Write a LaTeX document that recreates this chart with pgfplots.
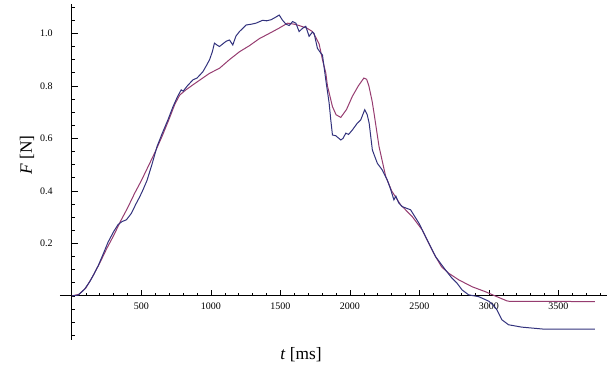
\documentclass[border=0pt]{standalone}
\usepackage{pgfplots}
\pgfplotsset{compat=1.18}
\usepackage{fontspec}
\setmainfont{Liberation Serif}
\definecolor{mblue}{RGB}{50,50,125}
\definecolor{mpurple}{RGB}{150,60,112}
\begin{document}
\begin{tikzpicture}
\begin{axis}[name=ax,
  scale only axis, width=410.25pt, height=252pt,
  xmin=-86, xmax=3849, ymin=-0.168, ymax=1.112,
  axis lines=middle, axis line style={-, line width=0.7pt},
  tick align=inside,
  xtick={500,1000,...,3500}, ytick={0.2,0.4,...,1.0},
  minor xtick={100,200,...,3800},
  minor ytick={-0.15,-0.1,...,1.1},
  major tick length=4.5pt, minor tick length=2.5pt,
  tick style={black, line width=0.5pt},
  /pgf/number format/assume math mode=true,
  x tick label style={/pgf/number format/1000 sep={}, font=\fontsize{7.5}{8}\selectfont, yshift=-2pt},
  y tick label style={/pgf/number format/.cd, fixed, fixed zerofill, precision=1, /tikz/.cd, font=\fontsize{7.5}{8}\selectfont, xshift=-11pt},
  xlabel={\textit{t} [ms]}, ylabel={\textit{F} [N]},
  xlabel style={at={(axis description cs:0.4406,-0.0446)}, anchor=center, font=\fontsize{13}{15}\selectfont},
  ylabel style={at={(axis description cs:-0.0603,0.5506)}, anchor=center, rotate=90, font=\fontsize{13}{15}\selectfont},
]
\addplot[mpurple, line width=0.75pt] coordinates {
(0,0) (50,0.006) (100,0.03) (150,0.075) (200,0.125) (250,0.18) (300,0.23) (350,0.285)
(400,0.335) (450,0.39) (500,0.44) (550,0.495) (600,0.55) (650,0.61) (700,0.675)
(740,0.73) (775,0.765) (820,0.785) (870,0.804) (930,0.826) (990,0.848) (1061,0.867)
(1133,0.9) (1205,0.93) (1276,0.953) (1348,0.98) (1420,1.0) (1490,1.02) (1551,1.039)
(1600,1.035) (1634,1.03) (1690,1.02) (1730,1.007) (1754,0.985) (1778,0.96) (1802,0.9)
(1826,0.85) (1838,0.80) (1874,0.721) (1900,0.69) (1934,0.68) (1975,0.71) (2017,0.76)
(2060,0.80) (2100,0.83) (2120,0.825) (2136,0.80) (2160,0.74) (2173,0.696) (2209,0.569)
(2257,0.455) (2300,0.40) (2364,0.347) (2448,0.302) (2520,0.251) (2567,0.20) (2615,0.15)
(2660,0.11) (2711,0.086) (2783,0.061) (2878,0.035) (2974,0.016) (3057,-0.003)
(3129,-0.019) (3150,-0.021) (3500,-0.021) (3761,-0.022)
};
\addplot[mblue, line width=0.75pt] coordinates {
(0,0) (45,0.003) (90,0.025) (129,0.055) (160,0.085) (189,0.115) (225,0.16) (260,0.205)
(300,0.245) (332,0.272) (360,0.283) (392,0.29) (428,0.315) (460,0.35) (488,0.378)
(511,0.404) (540,0.44) (575,0.50) (612,0.569) (650,0.62) (690,0.67) (727,0.721)
(760,0.76) (786,0.785) (800,0.78) (830,0.80) (870,0.823) (900,0.83) (942,0.854)
(970,0.88) (990,0.9) (1010,0.93) (1025,0.963) (1045,0.955) (1061,0.95) (1085,0.96)
(1109,0.97) (1133,0.975) (1157,0.956) (1180,0.99) (1205,1.007) (1230,1.02) (1253,1.032)
(1290,1.035) (1324,1.039) (1350,1.045) (1372,1.05) (1400,1.048) (1432,1.052) (1460,1.06)
(1491,1.07) (1515,1.05) (1540,1.035) (1563,1.03) (1587,1.045) (1611,1.039) (1634,1.007)
(1660,1.02) (1682,1.027) (1706,0.989) (1730,1.005) (1742,1.0) (1766,0.943) (1790,0.925)
(1802,0.918) (1826,0.823) (1850,0.735) (1862,0.67) (1874,0.613) (1898,0.61) (1934,0.594)
(1950,0.60) (1970,0.62) (1990,0.615) (2017,0.632) (2035,0.645) (2053,0.658) (2077,0.67)
(2106,0.709) (2124,0.69) (2138,0.658) (2161,0.556) (2197,0.505) (2232,0.48) (2268,0.442)
(2290,0.41) (2316,0.366) (2330,0.38) (2350,0.355) (2376,0.34) (2436,0.328) (2496,0.277)
(2556,0.213) (2615,0.15) (2687,0.099) (2730,0.07) (2771,0.048) (2806,0.023) (2854,0.004)
(2926,-0.003) (2998,-0.02) (3030,-0.035) (3057,-0.053) (3093,-0.091) (3141,-0.11)
(3236,-0.119) (3403,-0.127) (3761,-0.127)
};
\end{axis}
\pgfresetboundingbox
\path[use as bounding box] ([xshift=-45pt,yshift=-25.5pt]ax.south west) rectangle ([xshift=3pt,yshift=3pt]ax.north east);
\end{tikzpicture}
\end{document}
